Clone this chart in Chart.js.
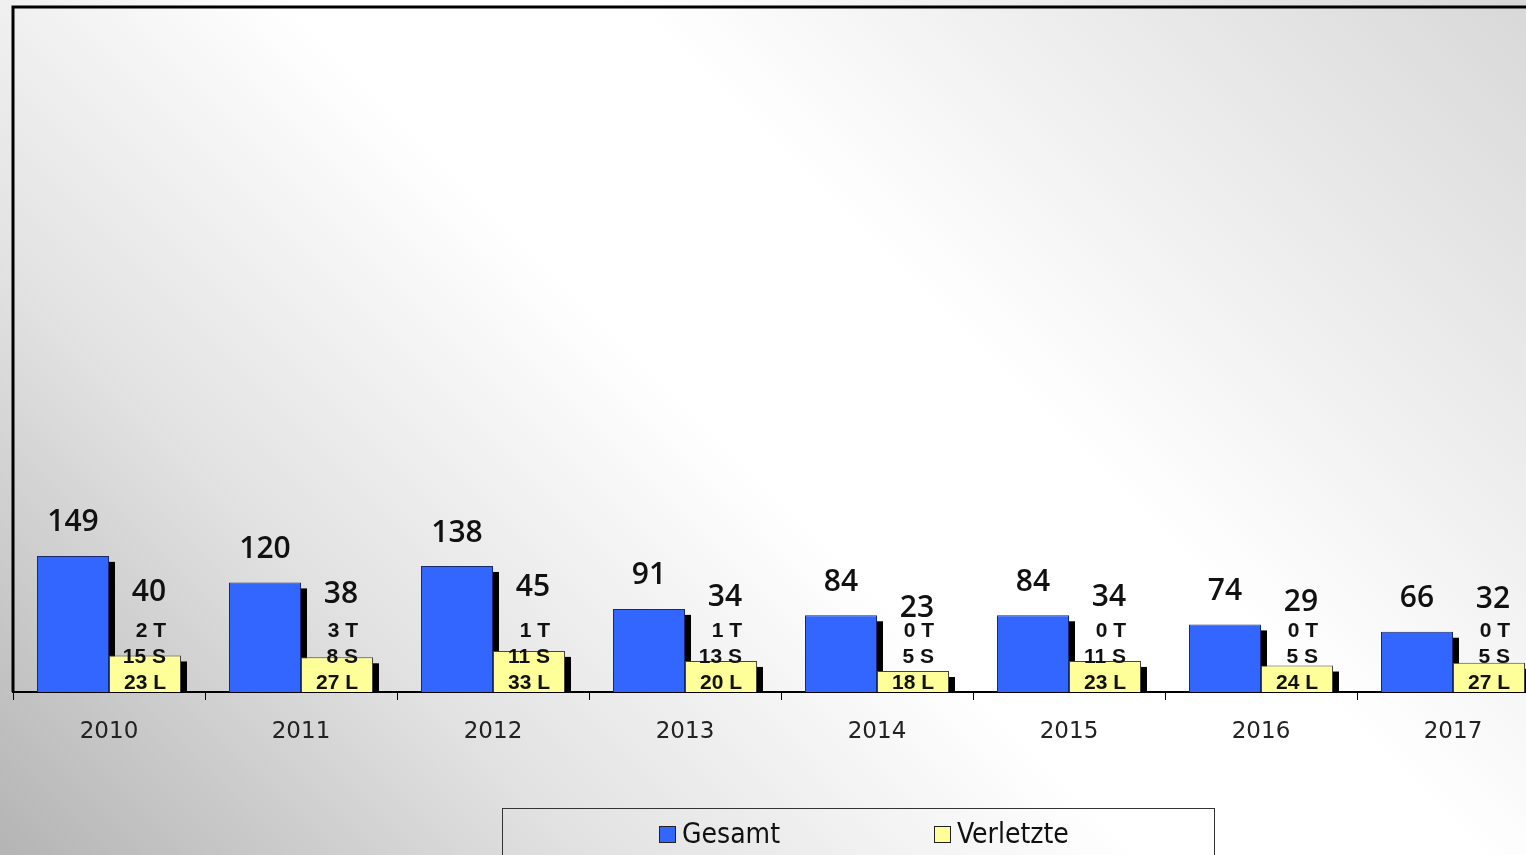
<!DOCTYPE html>
<html><head><meta charset="utf-8">
<script src="https://cdn.jsdelivr.net/npm/chart.js@4"></script>
<style>
html,body{margin:0;padding:0;overflow:hidden;width:1526px;height:855px;}
body{background:linear-gradient(45deg,#b4b4b4 0%,#e2e2e2 25%,#ffffff 48%,#ffffff 62%,#d8d8d8 100%);position:relative;}
#wrap{position:absolute;left:0;top:0;width:1552px;height:855px;}
#legend{position:absolute;left:502px;top:808px;width:713px;height:60px;border:1px solid #333;box-sizing:border-box;font-family:"DejaVu Sans Condensed","DejaVu Sans",sans-serif;font-stretch:condensed;font-size:28px;color:#111;}
.item{position:absolute;top:8px;display:flex;align-items:center;line-height:34px;}
.sw{width:15px;height:15px;border:1px solid #222;margin-right:6px;}
</style></head>
<body>
<div id="wrap"><canvas id="c"></canvas></div>
<div id="legend">
  <div class="item" style="left:156px"><span class="sw" style="background:#3366ff"></span><span>Gesamt</span></div>
  <div class="item" style="left:431px"><span class="sw" style="background:#ffff99"></span><span>Verletzte</span></div>
</div>
<script>
const years = ['2010','2011','2012','2013','2014','2015','2016','2017'];
const gesamt = [149,120,138,91,84,84,74,66];
const verletzte = [40,38,45,34,23,34,29,32];
const getoetet = [2,3,1,1,0,0,0,0];
const schwer = [15,8,11,13,5,11,5,5];
const leicht = [23,27,33,20,18,23,24,27];

const valueFont = '600 30px "Open Sans", "DejaVu Sans", sans-serif';

const shadowPlugin = {
  id:'shadows',
  beforeDatasetsDraw(chart){
    const ctx = chart.ctx;
    ctx.save();
    ctx.fillStyle = '#000';
    chart.data.datasets.forEach((ds,i)=>{
      chart.getDatasetMeta(i).data.forEach(bar=>{
        const p = bar.getProps(['x','y','base','width'],true);
        const xr = p.x + p.width/2;
        ctx.fillRect(xr, p.y + 6, 6, p.base - p.y - 6);
      });
    });
    ctx.restore();
  }
};

const framePlugin = {
  id:'frame',
  afterDraw(chart){
    const {ctx, chartArea:a} = chart;
    ctx.save();
    ctx.strokeStyle = '#000';
    ctx.lineWidth = 3;
    ctx.beginPath();
    ctx.moveTo(a.left, a.bottom);
    ctx.lineTo(a.left, a.top);
    ctx.lineTo(a.right + 5, a.top);
    ctx.stroke();
    ctx.restore();
  }
};

const labelPlugin = {
  id:'labels',
  afterDatasetsDraw(chart){
    const ctx = chart.ctx;
    ctx.save();
    ctx.fillStyle = '#111';
    ctx.textAlign = 'center';
    ctx.textBaseline = 'middle';
    ctx.font = valueFont;
    chart.getDatasetMeta(0).data.forEach((bar,i)=>{
      const p = bar.getProps(['x','y'],true);
      ctx.fillText(String(gesamt[i]), p.x, p.y - 33);
    });
    chart.getDatasetMeta(1).data.forEach((bar,i)=>{
      const p = bar.getProps(['x','y','base'],true);
      ctx.textAlign = 'center';
      ctx.font = valueFont;
      ctx.fillText(String(verletzte[i]), p.x + 4, p.y - 63);
      ctx.textAlign = 'right';
      ctx.font = 'bold 21px "Liberation Sans", Arial, sans-serif';
      ctx.fillText(getoetet[i] + ' T', p.x + 21, p.base - 61);
      ctx.fillText(schwer[i] + ' S', p.x + 21, p.base - 35);
      ctx.fillText(leicht[i] + ' L', p.x + 21, p.base - 9);
    });
    ctx.restore();
  }
};

new Chart(document.getElementById('c'), {
  type:'bar',
  data:{
    labels: years,
    datasets:[
      {label:'Gesamt', data: gesamt, backgroundColor:'#3366ff', borderColor:'#1a2a66', borderWidth:1, barPercentage:1, categoryPercentage:0.75},
      {label:'Verletzte', data: verletzte, backgroundColor:'#ffff99', borderColor:'#444', borderWidth:1, barPercentage:1, categoryPercentage:0.75}
    ]
  },
  options:{
    responsive:true,
    maintainAspectRatio:false,
    animation:false,
    layout:{padding:{left:13, top:7, right:3, bottom:111}},
    plugins:{legend:{display:false}, tooltip:{enabled:false}},
    scales:{
      x:{
        grid:{display:true, drawOnChartArea:false, drawTicks:true, tickLength:8, color:'#000', lineWidth:1, offset:true},
        border:{display:true, color:'#000', width:2},
        ticks:{color:'#222', font:{family:'"DejaVu Sans", sans-serif', size:23}, padding:18, maxRotation:0},
        afterFit(s){ s.height = 52; }
      },
      y:{display:false, min:0, max:750}
    }
  },
  plugins:[shadowPlugin, labelPlugin, framePlugin]
});
</script>
</body></html>
